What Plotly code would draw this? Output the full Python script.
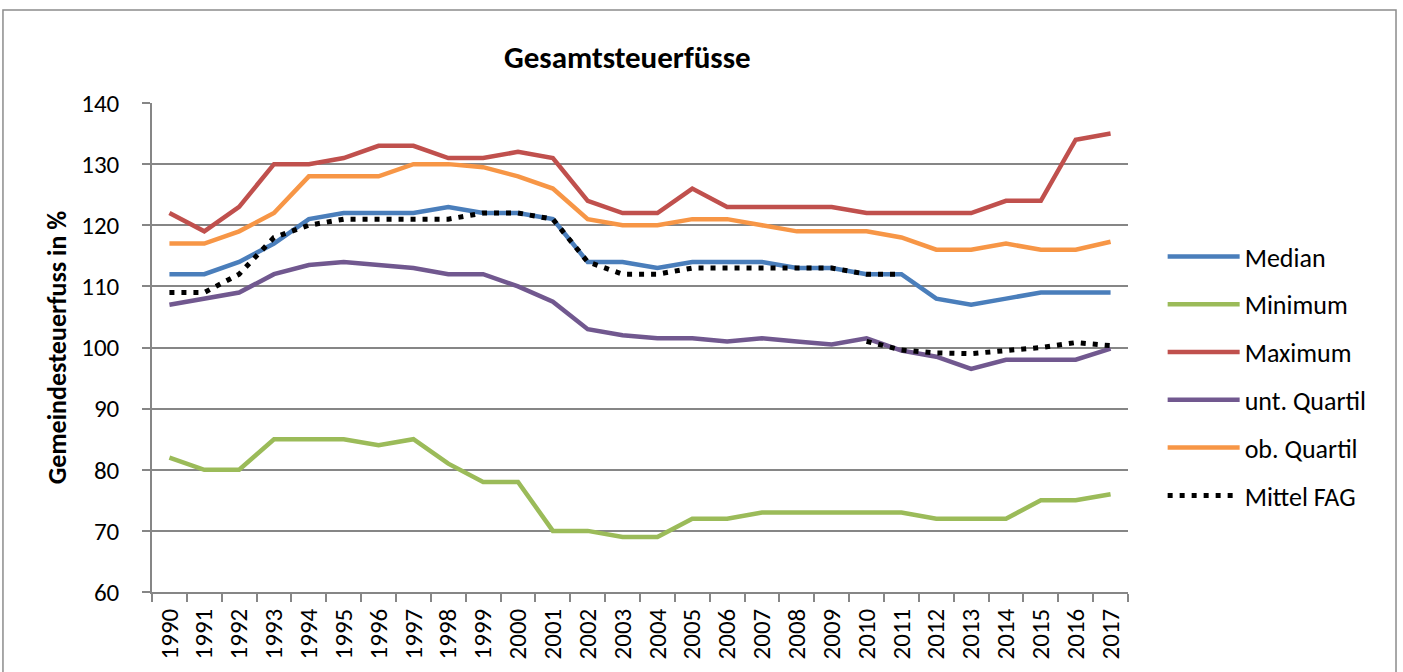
import plotly.graph_objects as go

years = [str(y) for y in range(1990, 2018)]

median = [112, 112, 114, 117, 121, 122, 122, 122, 123, 122, 122, 121, 114, 114,
          113, 114, 114, 114, 113, 113, 112, 112, 108, 107, 108, 109, 109, 109]
minimum = [82, 80, 80, 85, 85, 85, 84, 85, 81, 78, 78, 70, 70, 69,
           69, 72, 72, 73, 73, 73, 73, 73, 72, 72, 72, 75, 75, 76]
maximum = [122, 119, 123, 130, 130, 131, 133, 133, 131, 131, 132, 131, 124, 122,
           122, 126, 123, 123, 123, 123, 122, 122, 122, 122, 124, 124, 134, 135]
unt_quartil = [107, 108, 109, 112, 113.5, 114, 113.5, 113, 112, 112, 110, 107.5, 103, 102,
               101.5, 101.5, 101, 101.5, 101, 100.5, 101.5, 99.5, 98.5, 96.5, 98, 98, 98, 99.8]
ob_quartil = [117, 117, 119, 122, 128, 128, 128, 130, 130, 129.5, 128, 126, 121, 120,
              120, 121, 121, 120, 119, 119, 119, 118, 116, 116, 117, 116, 116, 117.3]
mittel_fag_years_a = years[:22]
mittel_fag_a = [109, 109, 112, 118, 120, 121, 121, 121, 121, 122, 122, 121, 114, 112,
                112, 113, 113, 113, 113, 113, 112, 112]
mittel_fag_years_b = years[20:]
mittel_fag_b = [101, 99.6, 99.1, 99, 99.5, 100, 100.8, 100.3]

FONT = "Carlito, Calibri, Lato, sans-serif"
GRID = "#868686"

fig = go.Figure()
series = [
    ("Median", median, "#4A7EBB"),
    ("Minimum", minimum, "#9BBB59"),
    ("Maximum", maximum, "#C0504D"),
    ("unt. Quartil", unt_quartil, "#71588F"),
    ("ob. Quartil", ob_quartil, "#F79646"),
]
for name, vals, col in series:
    fig.add_trace(go.Scatter(x=years, y=vals, mode="lines", name=name,
                             legendgroup=name,
                             line=dict(color=col, width=4.5)))

fig.add_trace(go.Scatter(x=mittel_fag_years_a, y=mittel_fag_a, mode="lines",
                         name="Mittel FAG", legendgroup="fag",
                         line=dict(color="black", width=5, dash="5px,7px")))
fig.add_trace(go.Scatter(x=mittel_fag_years_b, y=mittel_fag_b, mode="lines",
                         name="Mittel FAG", legendgroup="fag", showlegend=False,
                         line=dict(color="black", width=5, dash="5px,7px")))

# chart frame
fig.add_shape(type="rect", xref="paper", yref="paper",
              x0=-0.1527, x1=1.2746, y0=-0.2, y1=1.190,
              line=dict(color="#8C8C8C", width=1.5), layer="below")

fig.update_layout(
    width=1403, height=672,
    margin=dict(l=152, r=275, t=103, b=80),
    paper_bgcolor="white", plot_bgcolor="white",
    font=dict(family=FONT, color="black", size=24),
    title=dict(text="<b>Gesamtsteuerfüsse</b>", x=0.487, xref="paper",
               xanchor="center", y=1 - 57 / 672, yanchor="middle",
               font=dict(size=31, family=FONT)),
    showlegend=True,
    legend=dict(x=1.0355, xanchor="left", y=0.4417, yanchor="middle",
                font=dict(size=26, family=FONT), tracegroupgap=11,
                itemwidth=72, bgcolor="rgba(0,0,0,0)"),
    xaxis=dict(type="category", range=[-0.5, 27.5], showgrid=False,
               showline=True, linecolor=GRID, linewidth=1.5,
               ticks="outside", tickson="boundaries", ticklen=8,
               tickcolor=GRID, tickwidth=1.5, tickangle=-90,
               ticklabelstandoff=5,
               tickfont=dict(size=25, family=FONT)),
    yaxis=dict(range=[60, 140], dtick=10, tick0=60, showgrid=True,
               gridcolor=GRID, gridwidth=1.5, showline=True, linecolor=GRID,
               linewidth=1.5, ticks="outside", ticklen=8, tickcolor=GRID,
               tickwidth=1.5, tickfont=dict(size=25, family=FONT),
               ticklabelstandoff=18, zeroline=False,
               title=dict(text="<b>Gemeindesteuerfuss in %</b>",
                          font=dict(size=26, family=FONT), standoff=7)),
)

fig.write_html("out.html", config={"displayModeBar": False},
               post_script="document.body.style.margin='0';")
